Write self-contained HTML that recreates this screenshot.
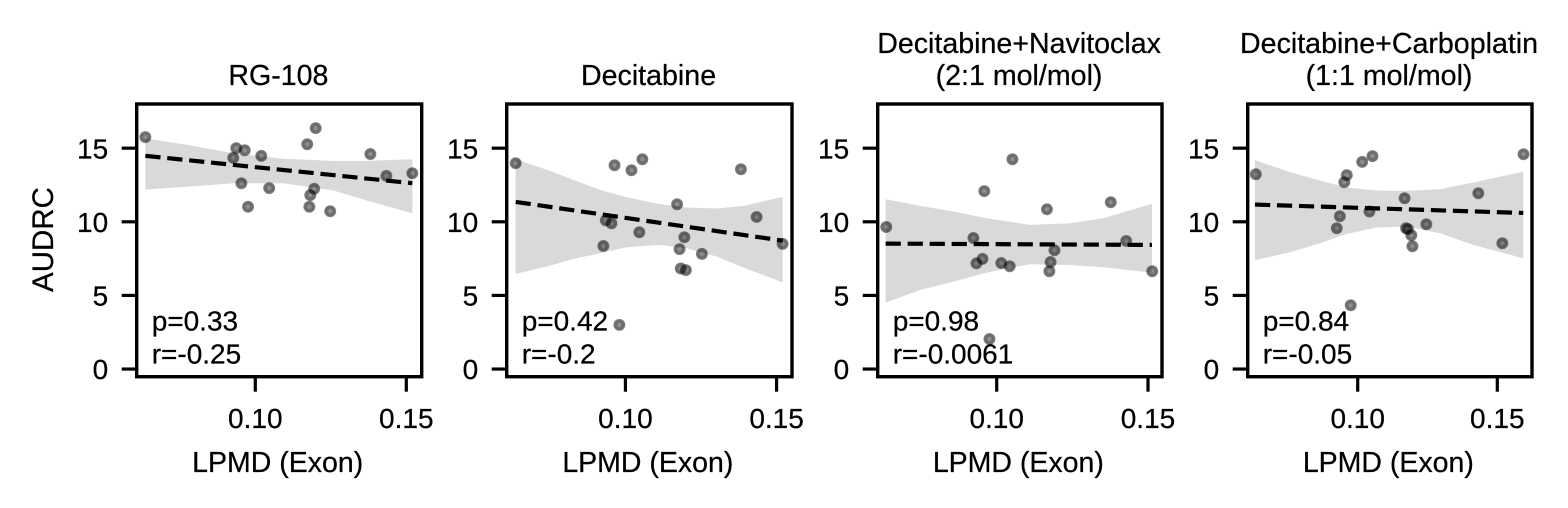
<!DOCTYPE html>
<html>
<head>
<meta charset="utf-8">
<style>
html,body{margin:0;padding:0;background:#fff;}
svg{display:block;font-family:"Liberation Sans",sans-serif;}
text{fill:#000;stroke:#000;stroke-width:0.25px;}
</style>
</head>
<body>
<svg id="chart" xmlns="http://www.w3.org/2000/svg" width="1568" height="508" viewBox="0 0 1568 508">
<defs>
<radialGradient id="dotFill">
<stop offset="0" stop-color="#000" stop-opacity="0.42"/>
<stop offset="0.25" stop-color="#000" stop-opacity="0.45"/>
<stop offset="0.55" stop-color="#000" stop-opacity="0.6"/>
<stop offset="0.85" stop-color="#000" stop-opacity="0.54"/>
<stop offset="1" stop-color="#000" stop-opacity="0.42"/>
</radialGradient>
</defs>
</svg>
<script>
// Shared tick labels
const xTicks = [0.10, 0.15];
const yTicks = [0, 5, 10, 15];

// Panel 1: RG-108
const rgX = [0.0636,0.0937,0.0965,0.0927,0.1020,0.1172,0.1200,0.1381,0.1434,0.1520,0.0954,0.1046,0.0976,0.1195,0.1182,0.1179,0.1248];
const rgY = [15.75,15.0,14.86,14.34,14.48,15.27,16.36,14.6,13.12,13.3,12.62,12.29,11.02,12.24,11.81,11.02,10.72];
const rgBandX = [0.0636,0.0773,0.0927,0.1093,0.1258,0.1369,0.1520];
const rgBandHi = [15.66,15.23,14.66,14.28,14.14,14.14,14.25];
const rgBandLo = [12.19,12.38,12.62,12.62,12.13,11.45,10.57];
const rgLineX = [0.0636,0.1520];
const rgLineY = [14.48,12.62];

// Panel 2: Decitabine
const decX = [0.0637,0.0964,0.1020,0.1056,0.1382,0.1171,0.1434,0.1520,0.1195,0.1046,0.0927,0.0935,0.0954,0.1179,0.1253,0.1183,0.1200,0.0980];
const decY = [13.98,13.84,13.5,14.25,13.57,11.19,10.33,8.5,8.95,9.29,8.36,10.1,9.89,8.14,7.82,6.83,6.72,3.0];
const decBandX = [0.0637,0.0751,0.0828,0.0916,0.1004,0.1115,0.1203,0.1302,0.1391,0.1520];
const decBandHi = [14.25,13.46,12.85,12.17,11.67,11.19,10.97,10.9,11.08,11.69];
const decBandLo = [6.46,7.02,7.48,7.86,8.27,8.43,8.2,7.64,6.89,5.89];
const decLineX = [0.0637,0.1520];
const decLineY = [11.35,8.72];

// Panel 3: Decitabine+Navitoclax
const navX = [0.0635,0.1052,0.0959,0.1166,0.1377,0.1428,0.1514,0.0923,0.0933,0.0953,0.1015,0.1043,0.1191,0.1178,0.1174,0.0976];
const navY = [9.65,14.25,12.08,10.85,11.33,8.7,6.64,8.9,7.18,7.48,7.2,6.98,8.07,7.27,6.64,2.04];
const navBandX = [0.0633,0.0747,0.0857,0.0967,0.1110,0.1242,0.1352,0.1513];
const navBandHi = [11.53,11.08,10.7,10.24,9.79,9.9,10.24,11.22];
const navBandLo = [4.51,5.37,5.94,6.55,7.12,7.07,6.91,6.55];
const navLineX = [0.0633,0.1513];
const navLineY = [8.52,8.43];

// Panel 4: Decitabine+Carboplatin
const carX = [0.0635,0.0961,0.0952,0.1016,0.1053,0.1594,0.1432,0.1168,0.1042,0.0936,0.0925,0.1246,0.1173,0.1180,0.1192,0.1196,0.1518,0.0975];
const carY = [13.23,13.17,12.69,14.07,14.46,14.59,11.94,11.6,10.7,10.38,9.56,9.83,9.56,9.5,9.09,8.34,8.54,4.33];
const carBandX = [0.0632,0.0758,0.0865,0.0961,0.1068,0.1175,0.1295,0.1414,0.1593];
const carBandHi = [14.19,13.37,12.8,12.33,12.12,12.1,12.21,12.67,13.41];
const carBandLo = [7.39,7.93,8.54,9.18,9.61,9.68,9.22,8.43,7.52];
const carLineX = [0.0632,0.1593];
const carLineY = [11.17,10.6];

const NS = 'http://www.w3.org/2000/svg';
const svg = document.getElementById('chart');
const FRAME_TOP = 104, FRAME_BOTTOM = 376.7;
const Y_MIN = -0.52, Y_MAX = 18;
const yScale = v => FRAME_BOTTOM - (v - Y_MIN) / (Y_MAX - Y_MIN) * (FRAME_BOTTOM - FRAME_TOP);

function make(parent, tag, attrs, text) {
  const el = document.createElementNS(NS, tag);
  for (const k in attrs) el.setAttribute(k, attrs[k]);
  if (text !== undefined) el.textContent = text;
  parent.appendChild(el);
  return el;
}

const panels = [
  {key:'rg-108', left:136.7, right:421.7, xMin:0.06073, xMax:0.1551, title:['RG-108'], px:rgX, py:rgY, bx:rgBandX, hi:rgBandHi, lo:rgBandLo, lx:rgLineX, ly:rgLineY, p:'p=0.33', r:'r=-0.25'},
  {key:'decitabine', left:506.7, right:792, xMin:0.06073, xMax:0.1551, title:['Decitabine'], px:decX, py:decY, bx:decBandX, hi:decBandHi, lo:decBandLo, lx:decLineX, ly:decLineY, p:'p=0.42', r:'r=-0.2'},
  {key:'navitoclax', left:877.7, right:1162, xMin:0.06067, xMax:0.15463, title:['Decitabine+Navitoclax','(2:1 mol/mol)'], px:navX, py:navY, bx:navBandX, hi:navBandHi, lo:navBandLo, lx:navLineX, ly:navLineY, p:'p=0.98', r:'r=-0.0061'},
  {key:'carboplatin', left:1247.7, right:1532, xMin:0.0606, xMax:0.16243, title:['Decitabine+Carboplatin','(1:1 mol/mol)'], px:carX, py:carY, bx:carBandX, hi:carBandHi, lo:carBandLo, lx:carLineX, ly:carLineY, p:'p=0.84', r:'r=-0.05'}
];

panels.forEach(function (pn) {
  const xScale = v => pn.left + (v - pn.xMin) / (pn.xMax - pn.xMin) * (pn.right - pn.left);
  const g = make(svg, 'g', {});
  
  

  // confidence band
  const upper = pn.bx.map((x, i) => xScale(x).toFixed(2) + ',' + yScale(pn.hi[i]).toFixed(2));
  const lower = pn.bx.map((x, i) => xScale(x).toFixed(2) + ',' + yScale(pn.lo[i]).toFixed(2)).reverse();
  const band = make(g, 'polygon', {points: upper.concat(lower).join(' '), fill: '#d9d9d9'});
  
  

  // scatter points
  pn.px.forEach(function (x, i) {
    const dot = make(g, 'circle', {cx: xScale(x).toFixed(2), cy: yScale(pn.py[i]).toFixed(2), r: 6, fill: 'url(#dotFill)'});
    
    
  });

  // regression line
  const line = make(g, 'line', {x1: xScale(pn.lx[0]), y1: yScale(pn.ly[0]), x2: xScale(pn.lx[1]), y2: yScale(pn.ly[1]), stroke: '#000', 'stroke-width': 4.2, 'stroke-dasharray': '15.2 6.8'});
  
  

  // frame
  const frame = make(g, 'rect', {x: pn.left, y: FRAME_TOP, width: pn.right - pn.left, height: FRAME_BOTTOM - FRAME_TOP, fill: 'none', stroke: '#000', 'stroke-width': 3.4});
  
  

  // x ticks
  xTicks.forEach(function (t) {
    const tx = xScale(t);
    const tick = make(g, 'line', {x1: tx, x2: tx, y1: FRAME_BOTTOM, y2: FRAME_BOTTOM + 15, stroke: '#000', 'stroke-width': 3.2});
    
    
    const lab = make(g, 'text', {x: tx, y: 428, 'text-anchor': 'middle', 'font-size': 28}, t.toFixed(2));
    
    
  });

  // y ticks
  yTicks.forEach(function (t) {
    const ty = yScale(t);
    const tick = make(g, 'line', {x1: pn.left - 15, x2: pn.left, y1: ty, y2: ty, stroke: '#000', 'stroke-width': 3.2});
    
    
    const lab = make(g, 'text', {x: pn.left - 28.5, y: ty + 10.2, 'text-anchor': 'end', 'font-size': 28}, String(t));
    
    
  });

  // x axis title
  const cx = (pn.left + pn.right) / 2;
  const xt = make(g, 'text', {x: cx - 1.5, y: 472, 'text-anchor': 'middle', 'font-size': 28.5}, 'LPMD (Exon)');
  
  

  // panel title
  const base = pn.title.length === 2 ? 53 : 85;
  pn.title.forEach(function (s, i) {
    const tt = make(g, 'text', {x: cx - 0.8, y: base + 32 * i, 'text-anchor': 'middle', 'font-size': 28.6}, s);
    
    
  });

  // annotations
  const pt = make(g, 'text', {x: pn.left + 15, y: 330.5, 'font-size': 28}, pn.p);
  
  
  const rt = make(g, 'text', {x: pn.left + 15, y: 363.5, 'font-size': 28}, pn.r);
  
  
});

const yLabel = make(svg, 'text', {x: 0, y: 0, transform: 'translate(53,239.5) rotate(-90)', 'text-anchor': 'middle', 'font-size': 29.5}, 'AUDRC');


</script>
</body>
</html>
